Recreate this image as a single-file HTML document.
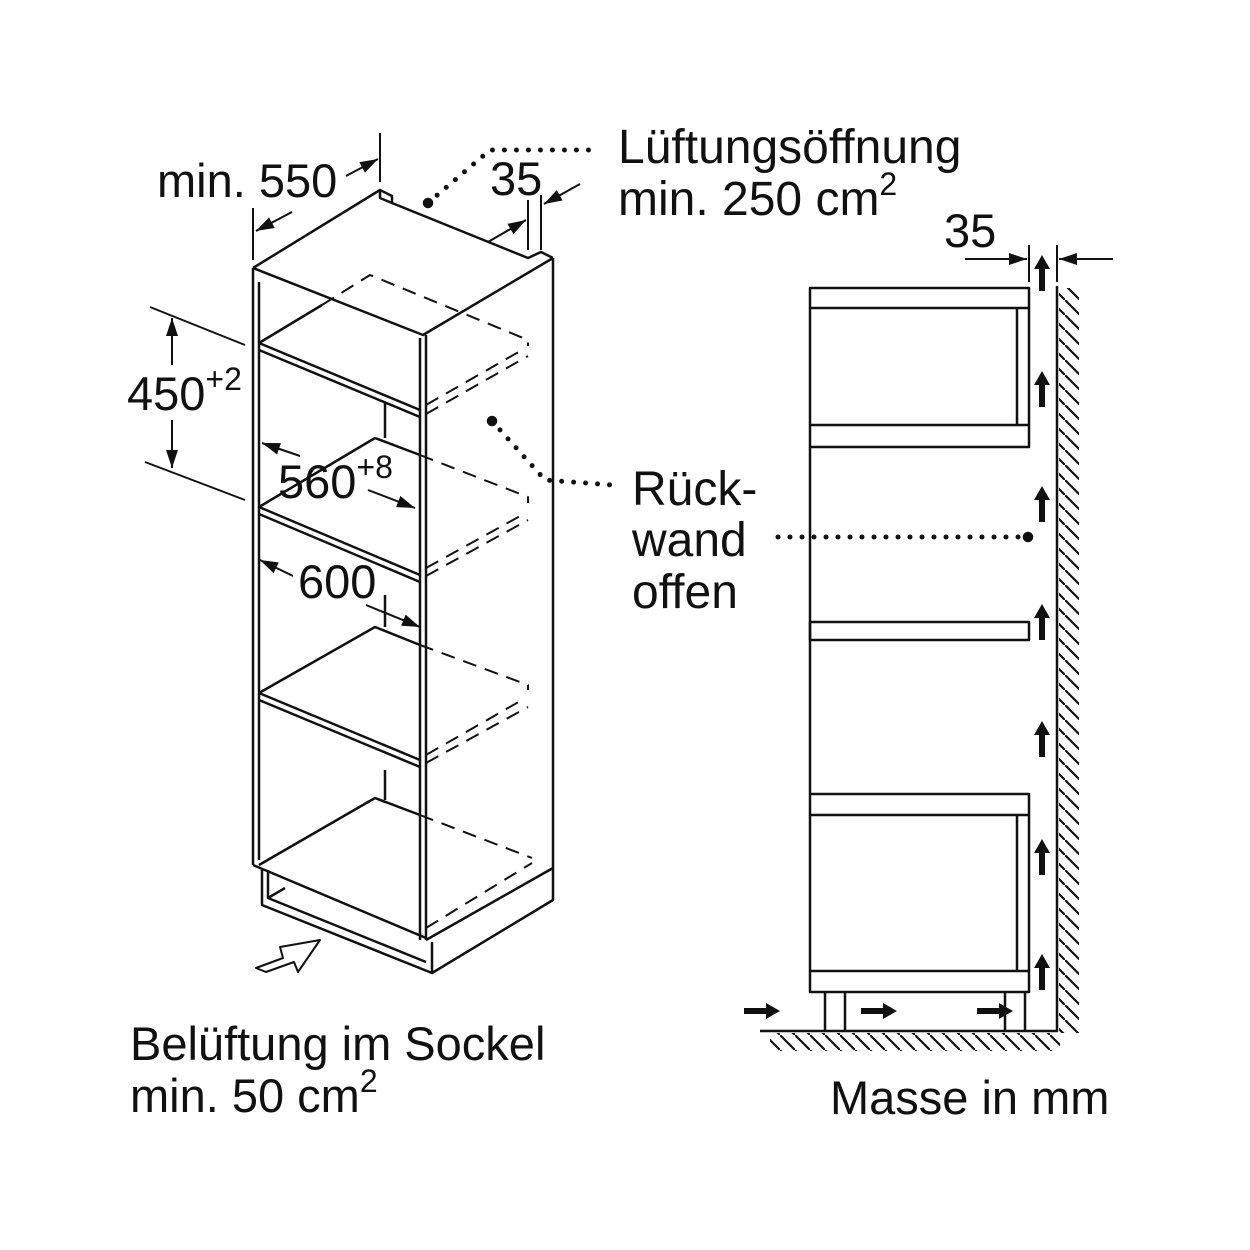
<!DOCTYPE html>
<html><head><meta charset="utf-8"><style>
html,body{margin:0;padding:0;background:#fff;}
svg{display:block;}
text{font-family:"Liberation Sans",sans-serif;fill:#111;}
</style></head><body>
<svg width="1250" height="1250" viewBox="0 0 1250 1250" xmlns="http://www.w3.org/2000/svg">
<defs>
<marker id="b" viewBox="0 0 18 12" refX="18" refY="6" markerWidth="18" markerHeight="12" orient="auto" markerUnits="userSpaceOnUse"><path d="M0,0 L18,6 L0,12z" fill="#111"/></marker>
<pattern id="hw" width="15" height="15" patternUnits="userSpaceOnUse"><path d="M-2,-2 L17,17" stroke="#111" stroke-width="2.2"/></pattern>
<g id="up"><path d="M-3,0 L-3,-22 L-8,-22 L0,-36 L8,-22 L3,-22 L3,0z" fill="#111"/></g>
<g id="rt"><path d="M0,-3 L22,-3 L22,-8 L36,0 L22,8 L22,3 L0,3z" fill="#111"/></g>
</defs>
<g fill="none" stroke="#111" stroke-width="2.5" stroke-linejoin="round">
<path d="M253,268 L380,190 L392,196 L392,203 L528,258 L541,252 L553,258"/>
<path d="M253,268 L423,335 L553,258"/>
<path d="M380,190 L380,198 L392,203"/>
<path d="M253,268 L253,865"/>
<path d="M259,282 L259,860"/>
<path d="M420,338 L420,940"/>
<path d="M426,335 L426,940"/>
<path d="M553,258 L553,868"/>
<path d="M259,343 L420,410 M259,350 L420,417"/>
<path d="M259,507 L420,575 M259,514 L420,582"/>
<path d="M259,693 L420,760 M259,700 L420,767"/>
<path d="M253,865 L426,938"/>
<path d="M259,343 L322,305 M259,507 L375,438 L420,455 M385,402 L385,438 M259,693 L375,627 L420,645 M385,595 L385,627 M385,770 L385,800 M259,865 L375,798 L420,815 M375,798 L385,802"/>
<path d="M262,868 L262,905 L432,973 L432,942 M268,870 L268,898 L426,962 M268,898 L285,888 M432,973 L553,900 L553,868 M426,940 L553,868"/>
<g stroke-dasharray="14,9" stroke-width="2">
<path d="M322,305 L370,275 L528,340 L528,346"/>
<path d="M426,405 L522,350 M426,414 L528,356"/>
<path d="M420,455 L528,497 L528,503"/>
<path d="M426,568 L522,515 M426,576 L528,520"/>
<path d="M420,645 L528,685 L528,690"/>
<path d="M426,755 L522,700 M426,763 L528,707"/>
<path d="M420,815 L532,858"/>
<path d="M426,928 L532,863"/>
</g>
<path d="M256,968 L283,958 L280,947 L320,940 L298,972 L294,962 L266,972 Z" stroke-width="2"/>
<path d="M253,208 L253,260 M380,133 L380,182 M528,200 L528,250 M541,195 L541,250" stroke-width="2"/>
<path d="M292,212 L256,231" stroke-width="2" marker-end="url(#b)"/>
<path d="M346,176 L378,159" stroke-width="2" marker-end="url(#b)"/>
<path d="M488,242 L526,220" stroke-width="2" marker-end="url(#b)"/>
<path d="M580,184 L544,204" stroke-width="2" marker-end="url(#b)"/>
<path d="M150,307 L245,345 M145,462 L245,500" stroke-width="2"/>
<path d="M172,365 L172,318" stroke-width="2" marker-end="url(#b)"/>
<path d="M172,420 L172,468" stroke-width="2" marker-end="url(#b)"/>
<path d="M300,456 L262,443" stroke-width="2" marker-end="url(#b)"/>
<path d="M368,490 L415,508" stroke-width="2" marker-end="url(#b)"/>
<path d="M293,576 L260,560" stroke-width="2" marker-end="url(#b)"/>
<path d="M366,605 L420,627" stroke-width="2" marker-end="url(#b)"/>
<path d="M428,203 L490,150 L592,150" stroke-width="5" stroke-dasharray="0,12" stroke-linecap="round"/>
<path d="M492,421 L545,480 L612,485" stroke-width="5" stroke-dasharray="0,12" stroke-linecap="round"/>
<path d="M778,537 L1028,537" stroke-width="5" stroke-dasharray="0,12" stroke-linecap="round"/>
<circle cx="428" cy="203" r="4" fill="#111"/>
<circle cx="492" cy="421" r="4" fill="#111"/>
<circle cx="1028" cy="537" r="4" fill="#111"/>

<rect x="810" y="288" width="219" height="20"/>
<rect x="810" y="425" width="219" height="22"/>
<path d="M810,308 L810,425 M1017,308 L1017,425 M1029,308 L1029,425"/>
<path d="M810,447 L810,794"/>
<rect x="810" y="622" width="219" height="18"/>
<rect x="810" y="794" width="219" height="21"/>
<path d="M810,815 L810,971 M1017,815 L1017,971 M1029,815 L1029,971"/>
<rect x="810" y="971" width="219" height="21"/>
<path d="M825,992 L825,1031 M845,992 L845,1031 M1005,992 L1005,1031 M1025,992 L1025,1031"/>
<path d="M760,1031 L1057,1031 L1057,286"/>
<path d="M1029,245 L1029,282 M1057,245 L1057,282" stroke-width="2"/>
<path d="M965,259 L1027,259" stroke-width="2" marker-end="url(#b)"/>
<path d="M1113,259 L1059,259" stroke-width="2" marker-end="url(#b)"/>
</g>
<rect x="1059" y="288" width="20" height="745" fill="url(#hw)"/>
<rect x="770" y="1033" width="290" height="18" fill="url(#hw)"/>
<use href="#up" x="1042" y="291"/>
<use href="#up" x="1042" y="407"/>
<use href="#up" x="1042" y="522"/>
<use href="#up" x="1042" y="640"/>
<use href="#up" x="1042" y="757"/>
<use href="#up" x="1042" y="875"/>
<use href="#up" x="1042" y="990"/>
<use href="#rt" x="744" y="1011"/>
<use href="#rt" x="861" y="1011"/>
<use href="#rt" x="977" y="1011"/>
<text x="157" y="197" font-size="47">min. 550</text>
<text x="490" y="195" font-size="47">35</text>
<text x="618" y="163" font-size="48">Lüftungsöffnung</text>
<text x="618" y="215" font-size="48">min. 250 cm<tspan font-size="32" dy="-20">2</tspan></text>
<text x="127" y="410" font-size="47">450<tspan font-size="32" dy="-20">+2</tspan></text>
<text x="278" y="498" font-size="47">560<tspan font-size="32" dy="-20">+8</tspan></text>
<text x="298" y="598" font-size="47">600</text>
<text x="632" y="505" font-size="48">Rück-</text>
<text x="632" y="556" font-size="48">wand</text>
<text x="632" y="608" font-size="48">offen</text>
<text x="944" y="247" font-size="47">35</text>
<text x="130" y="1060" font-size="47">Belüftung im Sockel</text>
<text x="130" y="1112" font-size="47">min. 50 cm<tspan font-size="32" dy="-20">2</tspan></text>
<text x="830" y="1114" font-size="47">Masse in mm</text>
</svg>
</body></html>
